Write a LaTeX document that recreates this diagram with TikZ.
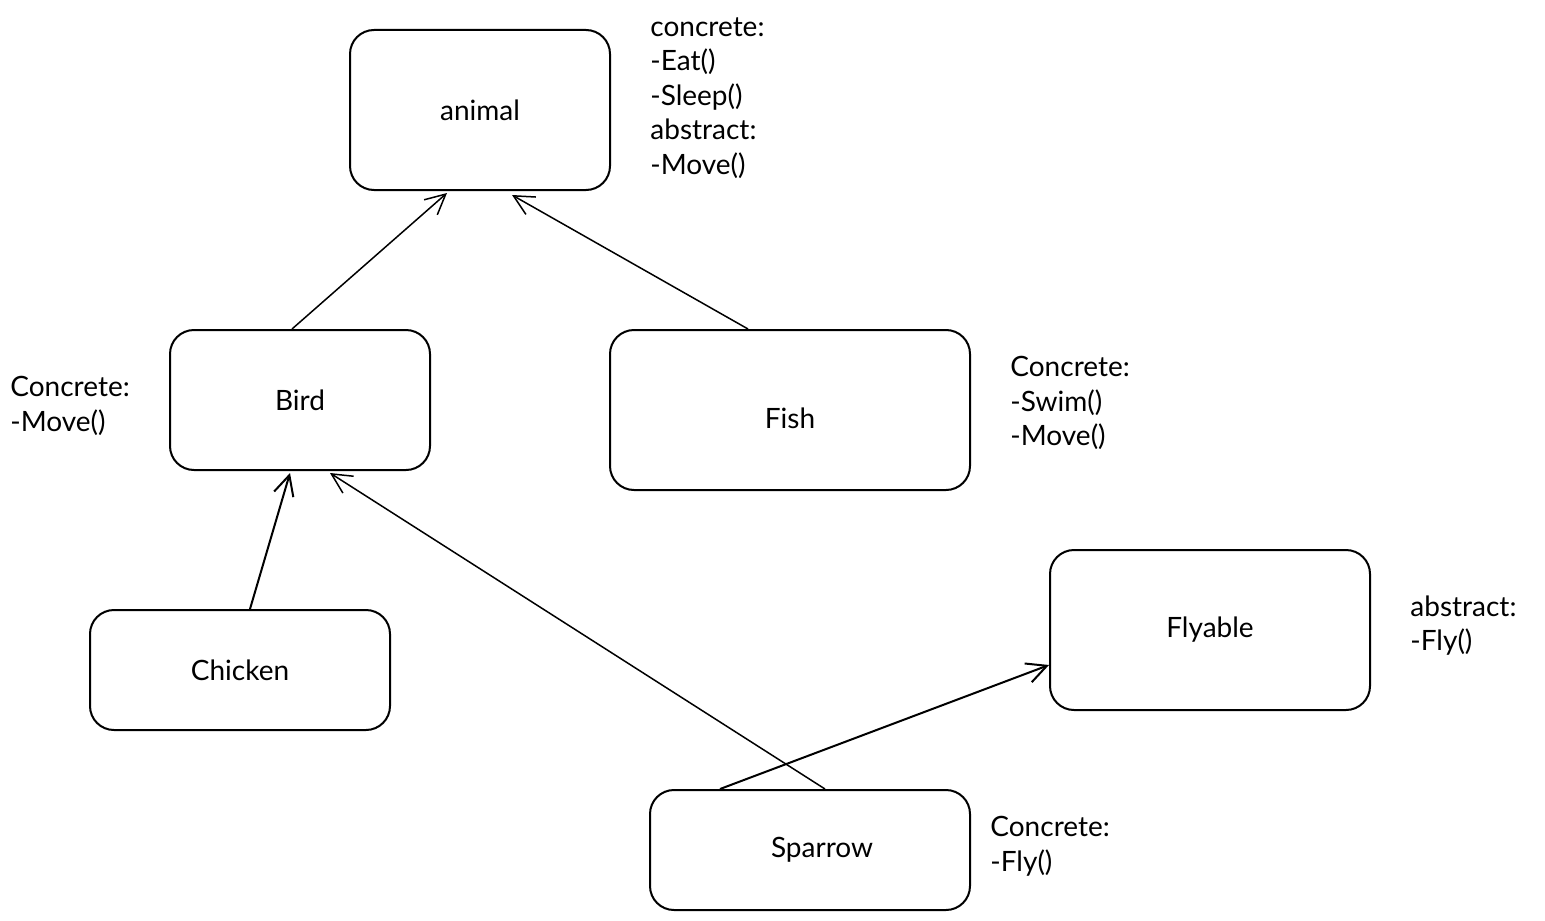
\documentclass[tikz,border=0pt]{standalone}
\usepackage{fontspec}
\setmainfont{Lato}
\usetikzlibrary{arrows.meta,calc}
\begin{document}
\begin{tikzpicture}[x=0.5pt,y=-0.5pt,
  clsfont/.style={font=\fontsize{14}{16}\selectfont},
  cls/.style={draw, line width=1pt, rounded corners=12pt, inner sep=0pt, clsfont},
  note/.style={anchor=north west, align=left, inner sep=0pt,
    font=\fontsize{14}{17.25}\selectfont},
  inherit/.style={-{Straight Barb[length=10pt,width=10pt]}, line width=0.75pt}]
\useasboundingbox (0,0) rectangle (1545,920);

% classes
\node[cls, minimum width=130pt, minimum height=80pt] (animal) at (480,110) {animal};
\node[cls, minimum width=130pt, minimum height=70pt] (bird) at (300,400) {Bird};
\node[cls, minimum width=180pt, minimum height=80pt,
  label={[name=fishname, yshift=-4pt, clsfont]center:Fish}] (fish) at (790,410) {};
\node[cls, minimum width=150pt, minimum height=60pt] (chicken) at (240,670) {Chicken};
\node[cls, minimum width=160pt, minimum height=80pt] (flyable) at (1210,630) {Flyable};
\node[cls, minimum width=160pt, minimum height=60pt,
  label={[name=sparrowname, xshift=6pt, clsfont]center:Sparrow}] (sparrow) at (810,850) {};

% method notes
\node[note] (animalnote) at (650,17) {concrete:\\-Eat()\\-Sleep()\\abstract:\\-Move()};
\node[note] (birdnote) at (10,376) {Concrete:\\-Move()};
\node[note] (fishnote) at (1010,356) {Concrete:\\-Swim()\\-Move()};
\node[note] (flyablenote) at (1410,595) {abstract:\\-Fly()};
\node[note] (sparrownote) at (990,816) {Concrete:\\-Fly()};

% inheritance arrows
\draw[inherit] ([xshift=-4pt]bird.north) -- ([xshift=-16.5pt,yshift=-1pt]animal.south);
\draw[inherit] ([xshift=-21pt]fish.north) -- ([xshift=16pt,yshift=-2pt]animal.south);
\draw[inherit, line width=1pt] ([xshift=5pt]chicken.north) -- ([xshift=-5pt,yshift=-1pt]bird.south);
\draw[inherit] ([xshift=7.5pt]sparrow.north) -- ([xshift=15pt,yshift=-1pt]bird.south);
\draw[inherit, line width=1pt] ([xshift=-45pt]sparrow.north) -- ([yshift=-17.5pt]flyable.west);
\end{tikzpicture}
\end{document}
